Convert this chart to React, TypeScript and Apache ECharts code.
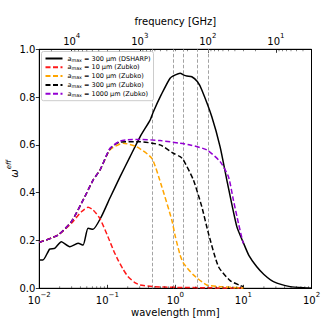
import React, { useEffect, useRef } from "react";
import * as echarts from "echarts";

// ---- data (wavelength in mm, effective albedo) ----
const lamDSHARP = [0.01, 0.0113, 0.0142, 0.0168, 0.0211, 0.028, 0.0371, 0.044, 0.052, 0.0616, 0.0817, 0.11, 0.154, 0.215, 0.3025, 0.4246, 0.4747, 0.62, 0.8356, 1.0, 1.173, 1.33, 1.472, 1.742, 2.1, 2.445, 3.428, 4.54, 5.7, 7.99, 10, 12, 15.7, 20, 27.6, 48.6, 85.5, 100];
const omegaDSHARP = [0.118, 0.118, 0.164, 0.167, 0.195, 0.174, 0.188, 0.181, 0.251, 0.247, 0.3, 0.38, 0.467, 0.55, 0.634, 0.704, 0.739, 0.81, 0.879, 0.893, 0.9, 0.892, 0.888, 0.885, 0.865, 0.83, 0.718, 0.592, 0.453, 0.258, 0.19, 0.138, 0.09, 0.058, 0.028, 0.007, 0.001, 0.0];

const lamZ10 = [0.01, 0.0188, 0.0296, 0.0415, 0.052, 0.0617, 0.0773, 0.102, 0.1226, 0.1436, 0.17, 0.2, 0.25, 0.3025, 0.4747, 1, 3, 10];
const omegaZ10 = [0.192, 0.223, 0.272, 0.32, 0.339, 0.328, 0.293, 0.216, 0.16, 0.118, 0.08, 0.05, 0.025, 0.014, 0.007, 0.004, 0.002, 0.001];

const lamZ100 = [0.01, 0.0188, 0.0296, 0.0466, 0.0617, 0.0781, 0.1096, 0.1718, 0.2704, 0.4497, 0.6309, 0.885, 1.0, 1.173, 1.312, 1.839, 2.894, 4.54, 10];
const omegaZ100 = [0.192, 0.223, 0.279, 0.383, 0.453, 0.495, 0.58, 0.607, 0.592, 0.544, 0.425, 0.286, 0.215, 0.139, 0.105, 0.056, 0.014, 0.007, 0.001];

const lamZ300 = [0.01, 0.0188, 0.0296, 0.0466, 0.0617, 0.0781, 0.1096, 0.1538, 0.3025, 0.5954, 0.935, 1.173, 1.312, 1.839, 2.445, 3.057, 4.3, 6.37, 8.94, 10];
const omegaZ300 = [0.192, 0.223, 0.279, 0.383, 0.453, 0.495, 0.584, 0.612, 0.613, 0.6, 0.565, 0.551, 0.537, 0.453, 0.341, 0.23, 0.09, 0.032, 0.012, 0.007];

const lamZ1000 = [0.01, 0.0188, 0.0296, 0.0466, 0.0617, 0.0781, 0.1096, 0.1538, 0.2, 0.3025, 0.5954, 1.173, 1.645, 2.894, 4.54, 6.02, 7.12, 8.44, 9.79, 10];
const omegaZ1000 = [0.192, 0.223, 0.279, 0.383, 0.453, 0.495, 0.586, 0.616, 0.622, 0.623, 0.618, 0.607, 0.6, 0.579, 0.53, 0.467, 0.369, 0.272, 0.195, 0.188];

// observing wavelengths (mm), vertical dashed lines
const bandWavelengths = [0.46, 0.92, 1.29, 2.1, 3.05];

// axis ticks
const yTicks = [0, 0.2, 0.4, 0.6, 0.8, 1.0];
const minorMantissas = [2, 3, 4, 5, 6, 7, 8, 9];
const wavelengthDecades = [0.01, 0.1, 1, 10];
const frequencyDecades = [1, 10, 100, 1000, 10000];

const C_MM_GHZ = 299.792458; // c in mm*GHz

const seriesNames = ["DSHARP300", "Z10", "Z100", "Z300", "Z1000"];
const legendText: Record<string, string> = {
  DSHARP300: " = 300 μm (DSHARP)",
  Z10: " = 10 μm (Zubko)",
  Z100: " = 100 μm (Zubko)",
  Z300: " = 300 μm (Zubko)",
  Z1000: " = 1000 μm (Zubko)",
};

const FONT = "DejaVu Sans";

function zip(xs: number[], ys: number[]) {
  return xs.map((x, i) => [x, ys[i]]);
}

function isPow10(v: number) {
  const l = Math.log10(v);
  return Math.abs(l - Math.round(l)) < 1e-6;
}

function powLabel(v: number) {
  if (!isPow10(v)) return "";
  const e = Math.round(Math.log10(v));
  const s = e < 0 ? "\u2212" + Math.abs(e) : String(e);
  return "{b|10}{sup|" + s + "}";
}

const powRich = {
  b: { fontSize: 10, fontFamily: FONT, color: "#000", lineHeight: 14, verticalAlign: "bottom" },
  sup: { fontSize: 7, fontFamily: FONT, color: "#000", lineHeight: 8, verticalAlign: "top" },
};

export default function App() {
  const ref = useRef<HTMLDivElement>(null);
  useEffect(() => {
    document.body.style.margin = "0";
    if (!ref.current) return;
    const chart = echarts.init(ref.current, undefined, { renderer: "svg" });

    const minorLam: number[][] = [];
    wavelengthDecades.forEach((d) => minorMantissas.forEach((m) => minorLam.push([m * d, 0])));
    const minorFreq: number[][] = [];
    frequencyDecades.forEach((d) =>
      minorMantissas.forEach((m) => {
        const f = m * d;
        if (f > C_MM_GHZ / 100 && f < C_MM_GHZ / 0.01) minorFreq.push([f, 1]);
      })
    );

    const dash = [5, 2.5];
    const lineCommon = { type: "line", showSymbol: false, symbol: "none", smooth: 0.2, z: 3 };

    const option: any = {
      animation: false,
      backgroundColor: "#fff",
      textStyle: { fontFamily: FONT },
      grid: {
        left: 39.3,
        right: 16.5,
        top: 49.3,
        bottom: 39.7,
        containLabel: false,
        outerBoundsMode: "none",
        show: true,
        borderColor: "#000",
        borderWidth: 1,
        backgroundColor: "transparent",
      },
      legend: {
        data: seriesNames,
        orient: "vertical",
        left: 41.5,
        top: 51.5,
        itemWidth: 17,
        itemHeight: 7,
        itemGap: 0.8,
        padding: [3, 3, 3, 3],
        backgroundColor: "#fff",
        borderColor: "#ccc",
        borderWidth: 1,
        borderRadius: 2,
        itemStyle: { opacity: 0 },
        formatter: (name: string) => "{i|a}{s|max}{t|" + legendText[name] + "}",
        textStyle: {
          fontFamily: FONT,
          fontSize: 6.5,
          color: "#000",
          lineHeight: 8,
          rich: {
            i: { fontFamily: FONT, fontSize: 6.5, fontStyle: "italic", color: "#000", lineHeight: 8, verticalAlign: "middle" },
            s: { fontFamily: FONT, fontSize: 4.8, color: "#000", lineHeight: 8, verticalAlign: "bottom" },
            t: { fontFamily: FONT, fontSize: 6.5, color: "#000", lineHeight: 8, verticalAlign: "middle" },
          },
        },
      },
      xAxis: [
        {
          type: "log",
          logBase: 10,
          min: 0.01,
          max: 100,
          position: "bottom",
          name: "wavelength [mm]",
          nameLocation: "middle",
          nameGap: 19.5,
          nameMoveOverlap: false,
          nameTextStyle: { fontFamily: FONT, fontSize: 10, color: "#000" },
          axisLine: { show: true, lineStyle: { color: "#000", width: 1 } },
          axisTick: { show: true, inside: true, length: 3.5, lineStyle: { color: "#000", width: 0.8 } },
          minorTick: { show: false },
          splitLine: { show: false },
          axisLabel: { formatter: (v: number) => powLabel(v), margin: 3, rich: powRich, showMinLabel: true, showMaxLabel: true },
        },
        {
          type: "log",
          logBase: 10,
          min: C_MM_GHZ / 100,
          max: C_MM_GHZ / 0.01,
          inverse: true,
          position: "top",
          name: "frequency [GHz]",
          nameLocation: "middle",
          nameGap: 22.5,
          nameMoveOverlap: false,
          nameTextStyle: { fontFamily: FONT, fontSize: 10, color: "#000" },
          axisLine: { show: true, lineStyle: { color: "#000", width: 1 } },
          axisTick: { show: true, inside: true, length: 3.5, lineStyle: { color: "#000", width: 0.8 } },
          splitLine: { show: false },
          axisLabel: { formatter: (v: number) => powLabel(v), margin: 3, rich: powRich },
        },
      ],
      yAxis: {
        type: "value",
        min: 0,
        max: 1,
        interval: 0.2,
        name: "{w|ω}{sup|eff}",
        nameLocation: "middle",
        nameRotate: 90,
        nameGap: 20,
        nameMoveOverlap: false,
        nameTextStyle: {
          rich: {
            w: { fontFamily: FONT, fontSize: 10, fontStyle: "italic", color: "#000", lineHeight: 14, verticalAlign: "bottom" },
            sup: { fontFamily: FONT, fontSize: 7, fontStyle: "italic", color: "#000", lineHeight: 8, verticalAlign: "top" },
          },
        },
        axisLine: { show: true, lineStyle: { color: "#000", width: 1 } },
        axisTick: { show: true, length: 3.5, lineStyle: { color: "#000", width: 0.8 } },
        splitLine: { show: false },
        axisLabel: {
          fontFamily: FONT,
          fontSize: 10,
          color: "#000",
          margin: 4,
          formatter: (v: number) => (yTicks.some((t) => Math.abs(t - v) < 1e-9) ? v.toFixed(1) : ""),
        },
      },
      series: [
        {
          ...lineCommon,
          name: "DSHARP300",
          data: zip(lamDSHARP, omegaDSHARP),
          lineStyle: { color: "#000", width: 1.5, type: "solid" },
          itemStyle: { color: "#000" },
          markLine: {
            silent: true,
            symbol: "none",
            label: { show: false },
            lineStyle: { color: "#999", width: 0.9, type: [3.5, 2] },
            data: bandWavelengths.map((x) => ({ xAxis: x })),
            z: 1,
          },
        },
        {
          ...lineCommon,
          name: "Z10",
          data: zip(lamZ10, omegaZ10),
          lineStyle: { color: "#ff1a1a", width: 1.5, type: dash },
          itemStyle: { color: "#ff1a1a" },
        },
        {
          ...lineCommon,
          name: "Z100",
          data: zip(lamZ100, omegaZ100),
          lineStyle: { color: "#ffa500", width: 1.5, type: dash },
          itemStyle: { color: "#ffa500" },
        },
        {
          ...lineCommon,
          name: "Z300",
          data: zip(lamZ300, omegaZ300),
          lineStyle: { color: "#000", width: 1.5, type: dash },
          itemStyle: { color: "#000" },
        },
        {
          ...lineCommon,
          name: "Z1000",
          data: zip(lamZ1000, omegaZ1000),
          lineStyle: { color: "#9400d3", width: 1.5, type: dash },
          itemStyle: { color: "#9400d3" },
        },
        {
          type: "scatter",
          xAxisIndex: 0,
          data: minorLam,
          symbol: "rect",
          symbolSize: [0.6, 2],
          symbolOffset: [0, -1],
          itemStyle: { color: "#000" },
          silent: true,
          z: 4,
        },
        {
          type: "scatter",
          xAxisIndex: 1,
          data: minorFreq,
          symbol: "rect",
          symbolSize: [0.6, 2],
          symbolOffset: [0, 1],
          itemStyle: { color: "#000" },
          silent: true,
          z: 4,
        },
      ],
    };
    chart.setOption(option);
    return () => chart.dispose();
  }, []);
  return <div ref={ref} style={{ width: 328, height: 328 }} />;
}
